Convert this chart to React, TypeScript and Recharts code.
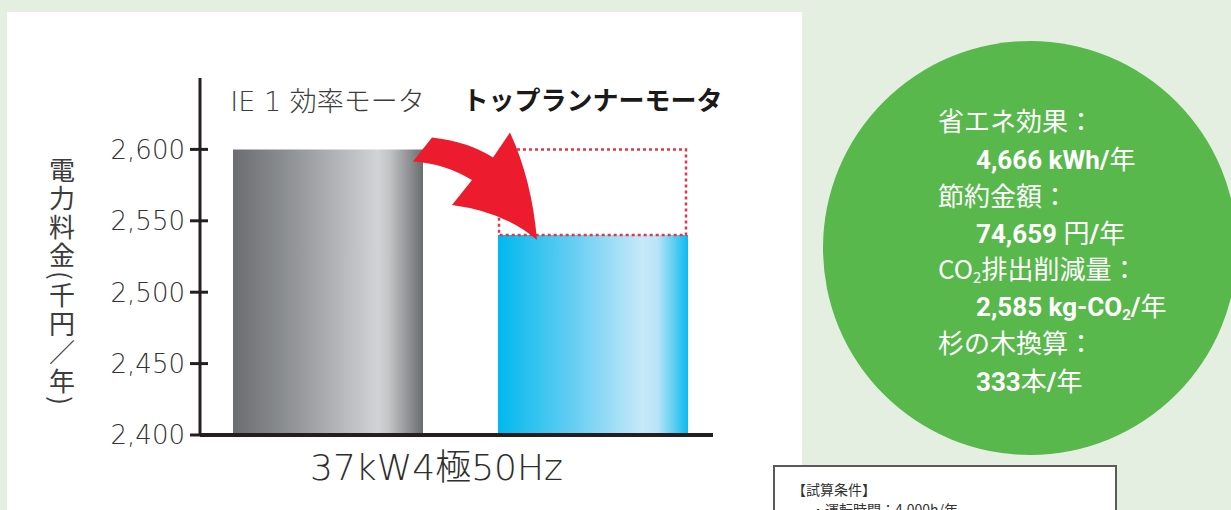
import React from 'react';
import { ComposedChart, Bar, XAxis, YAxis, Label, Cell } from 'recharts';

const categories = ['IE 1 効率モータ', 'トップランナーモータ'];
const costs = [2600, 2540];
const yTicks = [2400, 2450, 2500, 2550, 2600];
const yDomain = [2400, 2650];
const xTitle = '37kW4極50Hz';
const yTitle = '電力料金(千円／年)';
const effectLabels = ['省エネ効果：', '節約金額：', 'CO₂排出削減量：', '杉の木換算：'];
const conditionLines = ['【試算条件】', '・運転時間：4,000h/年'];

const data = categories.map((name, i) => ({
  name,
  cost: costs[i],
  before: i === 0 ? null : [costs[i], costs[0]],
}));

const fmt = new Intl.NumberFormat('en-US');
const THIN = "'DejaVu Sans', 'Noto Sans CJK JP', sans-serif";
const CJK = "'Noto Sans CJK JP', sans-serif";

const YTick = (props: any) => {
  const { x, y, payload } = props;
  return (
    <g>
      <line x1={x - 10} x2={x + 8} y1={y} y2={y} stroke="#231f20" strokeWidth={3} />
      <text x={x - 15} y={y} dy="0.36em" textAnchor="end" fontSize={26} fontWeight={200}
        fontFamily={THIN} fill="#333333">{fmt.format(payload.value)}</text>
    </g>
  );
};

const TopTick = (props: any) => {
  const { x, y, payload, index } = props;
  const bold = index === 1;
  return (
    <text x={x} y={y + 23} dy="0.36em" textAnchor="middle"
      fontSize={bold ? 26 : 27} fontWeight={bold ? 700 : 200}
      fontFamily={bold ? CJK : THIN} fill={bold ? '#1a1a1a' : '#3c3c3c'}>
      {payload.value}
    </text>
  );
};

const XTitle = (props: any) => {
  const vb = props.viewBox || {};
  return (
    <text x={vb.x + vb.width / 2 - 20} y={vb.y + 32} dy="0.36em" textAnchor="middle"
      fontSize={36} fontWeight={200} fontFamily={THIN} fill="#2e2e2e">{xTitle}</text>
  );
};

const YTitle = (props: any) => {
  const vb = props.viewBox || {};
  return (
    <text x={vb.x + 62} y={157} fontSize={26} fontFamily={CJK} fill="#3c3c3c"
      letterSpacing={2.5}
      style={{ writingMode: 'vertical-rl' as any }}>{yTitle}</text>
  );
};

const GhostShape = (props: any) => {
  const { x, width } = props;
  const h = props.height;
  if (!h || Math.abs(h) < 1) return null;
  const YT = Math.min(props.y, props.y + h);
  const YB = Math.max(props.y, props.y + h);
  const X0 = x;
  const d = `M ${X0 - 66} ${YT - 12} Q ${X0 - 30} ${YT - 8} ${X0 - 5} ${YT + 8} L ${X0 + 12} ${YT - 17} Q ${X0 + 34} ${YT + 31} ${X0 + 39} ${YB + 5} Q ${X0 + 7} ${YB - 23} ${X0 - 46} ${YB - 30} L ${X0 - 26} ${YB - 55} Q ${X0 - 53} ${YT + 14} ${X0 - 85} ${YT + 12} Z`;
  return (
    <g>
      <rect x={x + 1} y={YT} width={width - 3} height={YB - YT} fill="none"
        stroke="#e6354a" strokeWidth={2.5} strokeDasharray="3 3" />
      <path d={d} fill="#ec1c2e" />
    </g>
  );
};

const lineTop = [120, 158, 195, 232, 268, 305, 342, 380];

export default function App() {
  const vStyle: React.CSSProperties = { fontFamily: "Roboto, 'Noto Sans CJK JP', sans-serif", fontWeight: 700, fontSize: 26 };
  const jStyle: React.CSSProperties = { fontFamily: CJK, fontWeight: 400 };
  const values: React.ReactNode[] = [
    <span style={vStyle}>4,666 kWh/<span style={jStyle}>年</span></span>,
    <span style={vStyle}>74,659 <span style={jStyle}>円</span>/<span style={jStyle}>年</span></span>,
    <span style={vStyle}>2,585 kg-CO<sub style={{ fontSize: 15, verticalAlign: -4 }}>2</sub>/<span style={jStyle}>年</span></span>,
    <span style={vStyle}>333<span style={jStyle}>本</span>/<span style={jStyle}>年</span></span>,
  ];
  const lines: { node: React.ReactNode; indent: boolean }[] = [];
  effectLabels.forEach((l, i) => {
    const node = l.startsWith('CO₂')
      ? <span>CO<sub style={{ fontSize: 15, verticalAlign: -4 }}>2</sub>{l.slice(3)}</span>
      : <span>{l}</span>;
    lines.push({ node, indent: false });
    lines.push({ node: values[i], indent: true });
  });

  return (
    <div style={{ position: 'absolute', left: 0, top: 0, width: 1231, height: 510, background: '#e4efe1', overflow: 'hidden' }}>
      <div style={{ position: 'absolute', left: 7, top: 12, width: 795, height: 498, background: '#ffffff' }} />
      <div style={{ position: 'absolute', left: 823, top: 41, width: 414, height: 414, borderRadius: '50%', background: '#58b84b' }} />
      {lines.map((ln, i) => (
        <div key={i} style={{
          position: 'absolute', left: ln.indent ? 976 : 938, top: lineTop[i] - 18, height: 36, lineHeight: '36px',
          color: '#ffffff', fontFamily: CJK, fontSize: 26, whiteSpace: 'nowrap',
        }}>{ln.node}</div>
      ))}
      <div style={{ position: 'absolute', left: 773, top: 465, width: 340, height: 60, border: '2px solid #5a5a5a', background: '#ffffff' }}>
        <div style={{ position: 'absolute', left: 17, top: 12, fontFamily: CJK, fontSize: 14, color: '#333', whiteSpace: 'nowrap' }}>{conditionLines[0]}</div>
        <div style={{ position: 'absolute', left: 36, top: 32, fontFamily: CJK, fontSize: 14, color: '#333', whiteSpace: 'nowrap' }}>{conditionLines[1]}</div>
      </div>
      <div style={{ position: 'absolute', left: 0, top: 0 }}>
        <ComposedChart width={810} height={510} data={data}
          margin={{ top: 78, right: 97, bottom: 35, left: 0 }}>
          <defs>
            <linearGradient id="gGray" x1="0" x2="1" y1="0" y2="0">
              <stop offset="0%" stopColor="#6b6d70" />
              <stop offset="30%" stopColor="#8f9295" />
              <stop offset="55%" stopColor="#b3b5b8" />
              <stop offset="76%" stopColor="#d2d3d5" />
              <stop offset="82%" stopColor="#c4c5c7" />
              <stop offset="100%" stopColor="#6a6d70" />
            </linearGradient>
            <linearGradient id="gBlue" x1="0" x2="1" y1="0" y2="0">
              <stop offset="0%" stopColor="#00b8ee" />
              <stop offset="40%" stopColor="#67cef3" />
              <stop offset="76%" stopColor="#c7e9f9" />
              <stop offset="84%" stopColor="#b9e4f8" />
              <stop offset="100%" stopColor="#0cbaee" />
            </linearGradient>
          </defs>
          <XAxis xAxisId="main" dataKey="name" type="category" padding={{ left: -5, right: -12 }}
            height={40} tick={false} tickLine={false} axisLine={{ stroke: '#231f20', strokeWidth: 4 }}>
            <Label content={(p: any) => <XTitle {...p} />} />
          </XAxis>
          <XAxis xAxisId="top" dataKey="name" type="category" orientation="top" mirror
            padding={{ left: -5, right: -12 }} height={30} axisLine={false} tickLine={false}
            tickSize={0} tickMargin={0} interval={0} tick={(p: any) => <TopTick {...p} />} />
          <YAxis type="number" domain={yDomain} ticks={yTicks} interval={0} width={200}
            tickSize={0} tickMargin={0} tickLine={false}
            axisLine={{ stroke: '#231f20', strokeWidth: 3 }} tick={(p: any) => <YTick {...p} />}>
            <Label content={(p: any) => <YTitle {...p} />} />
          </YAxis>
          <Bar xAxisId="main" dataKey="cost" barSize={190} isAnimationActive={false}>
            {data.map((d, i) => (
              <Cell key={d.name} fill={i === 0 ? 'url(#gGray)' : 'url(#gBlue)'} />
            ))}
          </Bar>
          <Bar xAxisId="top" dataKey="before" barSize={190} isAnimationActive={false}
            shape={(p: any) => <GhostShape {...p} />} />
        </ComposedChart>
      </div>
    </div>
  );
}
